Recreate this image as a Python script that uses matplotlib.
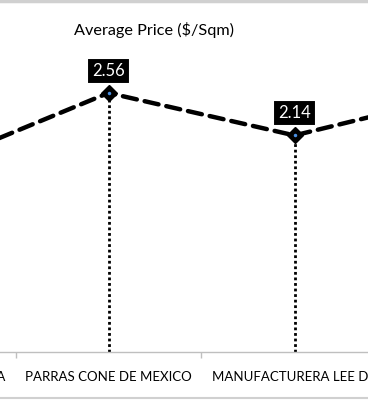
import matplotlib
matplotlib.use("Agg")
import matplotlib.pyplot as plt
from matplotlib.lines import Line2D
from matplotlib.transforms import blended_transform_factory, offset_copy

categories = ["TEXTILERA DE LA LAGUNA", "PARRAS CONE DE MEXICO", "MANUFACTURERA LEE DE", "OTRA"]
prices = [1.80, 2.56, 2.14, 2.59]
labelled = [1, 2]
title = "Average Price ($/Sqm)"

W, H = 368, 400
fig = plt.figure(figsize=(W / 100, H / 100), dpi=100)
fig.patch.set_facecolor("white")

bottom_px = 352
top_val = 3.0
ax = fig.add_axes([0, (H - bottom_px) / H, 1, top_val * 101.2 / H])
spacing = 186.0
c1 = 108.5
x0 = 1 - c1 / spacing
x1 = 1 + (W - c1) / spacing

xs = list(range(len(categories)))
font = "Lato"

for i in labelled:
    ax.plot([xs[i], xs[i]], [0, prices[i]], color="black", lw=2.0,
            linestyle=(0, (1, 1)), zorder=2)

ax.plot(xs, prices, color="black", lw=3.2, linestyle=(0, (3.2, 1.8)),
        dash_capstyle="round", zorder=3)

for i in labelled:
    ax.plot(xs[i], prices[i], marker="D", ms=8, color="black", zorder=4)
    ax.plot(xs[i], prices[i], marker="o", ms=2.5, color="#4a90e2", mec="none", zorder=5)
    ax.annotate(f"{prices[i]:.2f}", (xs[i], prices[i]), xytext=(0, 16),
                textcoords="offset points", ha="center", va="center",
                color="white", fontsize=12, family=font,
                bbox=dict(boxstyle="square,pad=0.3", fc="black", ec="white", lw=1.5),
                zorder=6)

for s in ["top", "left", "right"]:
    ax.spines[s].set_visible(False)
ax.spines["bottom"].set_color("#bfbfbf")
ax.spines["bottom"].set_linewidth(1.0)
ax.set_yticks([])
ax.set_xticks([x + 0.5 for x in xs[:-1]])
ax.set_xticklabels([])
ax.tick_params(axis="x", which="major", length=4, color="#bfbfbf", width=1)
ax.set_facecolor("none")
ax.set_xlim(x0, x1)
ax.set_ylim(0, top_val)

# category labels drawn as text so that partly-visible ones still appear
trans = offset_copy(blended_transform_factory(ax.transData, ax.transAxes),
                    fig=fig, x=0, y=-25, units="dots")
for x, name in zip(xs, categories):
    ax.text(x, 0, name, transform=trans, ha="center", va="center",
            family=font, fontsize=9.5, color="black", clip_on=False)

fig.text(153.5 / W, 1 - 30 / H, title, ha="center", va="center",
         family=font, fontsize=11.7, color="black")

fig.add_artist(Line2D([0, 1], [1 - 1 / H, 1 - 1 / H], color="#d0d0d0", lw=2.5,
                      transform=fig.transFigure))
fig.add_artist(Line2D([0, 1], [2 / H, 2 / H], color="#d0d0d0", lw=1.5,
                      transform=fig.transFigure))

fig.savefig("out.png", dpi=100)
